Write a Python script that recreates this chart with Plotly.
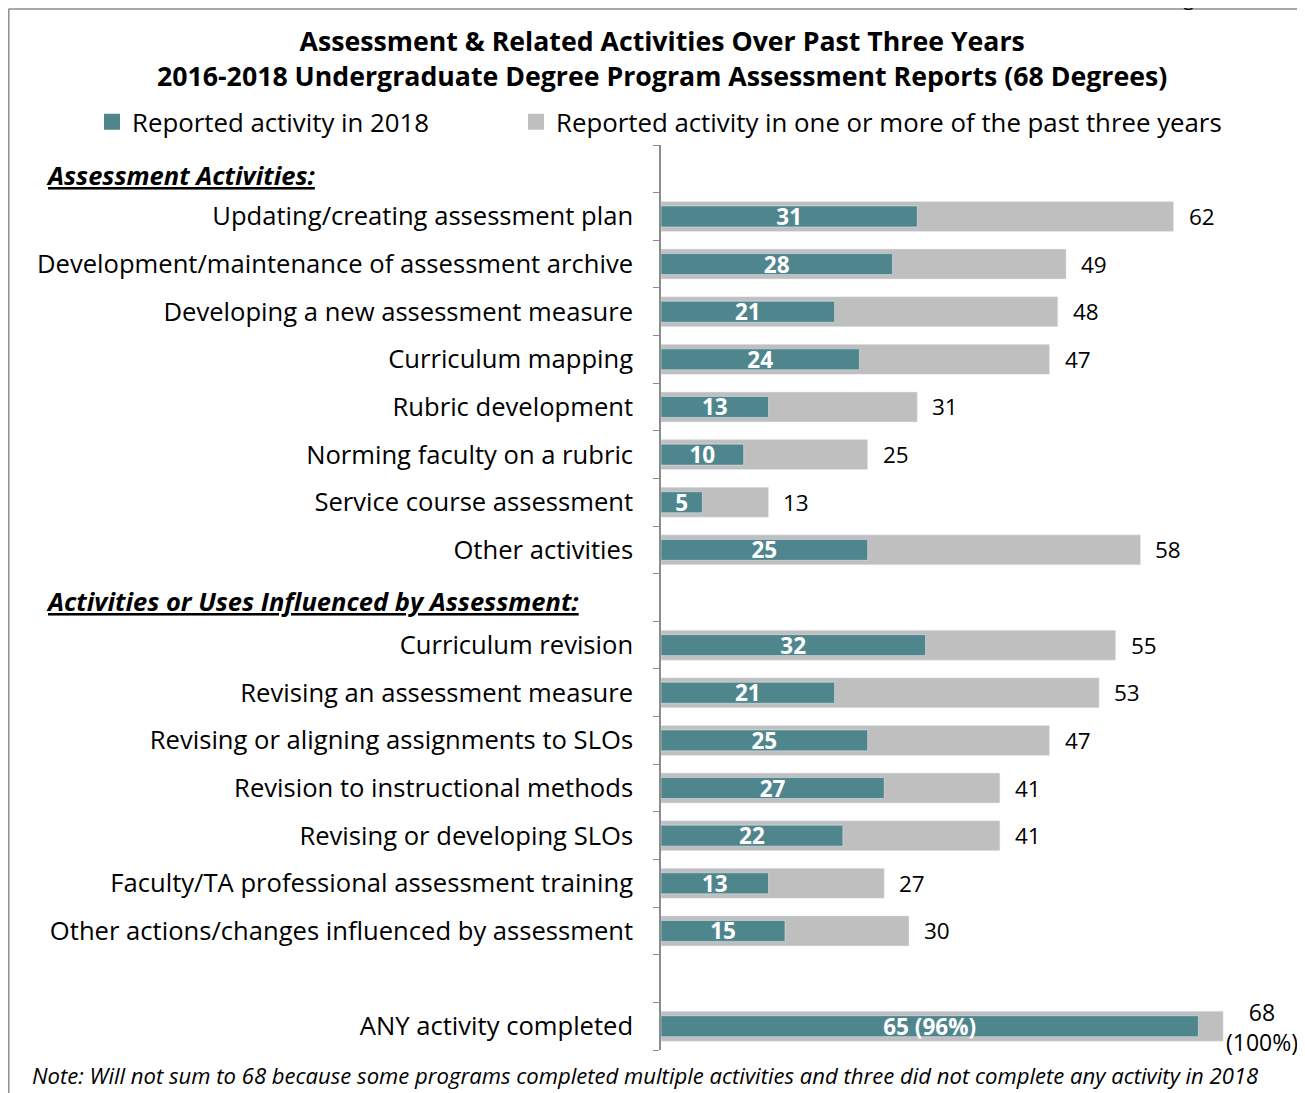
import plotly.graph_objects as go

# rows from top to bottom; header / spacer rows have no values
categories = [
    "Assessment Activities:",
    "Updating/creating assessment plan",
    "Development/maintenance of assessment archive",
    "Developing a new assessment measure",
    "Curriculum mapping",
    "Rubric development",
    "Norming faculty on a rubric",
    "Service course assessment",
    "Other activities",
    "Activities or Uses Influenced by Assessment:",
    "Curriculum revision",
    "Revising an assessment measure",
    "Revising or aligning assignments to SLOs",
    "Revision to instructional methods",
    "Revising or developing SLOs",
    "Faculty/TA professional assessment training",
    "Other actions/changes influenced by assessment",
    "spacer",
    "ANY activity completed",
]
headers = ["Assessment Activities:", "Activities or Uses Influenced by Assessment:"]

in_2018 = [None, 31, 28, 21, 24, 13, 10, 5, 25, None, 32, 21, 25, 27, 22, 13, 15, None, 65]
past_three = [None, 62, 49, 48, 47, 31, 25, 13, 58, None, 55, 53, 47, 41, 41, 27, 30, None, 68]
labels_2018 = [None if v is None else str(v) for v in in_2018]
labels_2018[-1] = "65 (96%)"
labels_past = [None if v is None else str(v) for v in past_three]
labels_past[-1] = "68<br>(100%)"

NAME_2018 = "Reported activity in 2018"
NAME_PAST = "Reported activity in one or more of the past three years"

TEAL = "#4F868E"
GRAY = "#BFBFBF"
LINE = "#8C8C8C"
FONT = "Open Sans"

# page body has an 8px margin, so the figure sits 8px in from the window corner
OFF = 8
W, H = 1305 - OFF, 1093 - OFF
PLOT_L, PLOT_R = 661 - OFF, 1281 - OFF
PLOT_T, PLOT_B = 145 - OFF, 1050 - OFF
XMAX = 75


def px_x(px):
    return (px - OFF - PLOT_L) / (PLOT_R - PLOT_L)


def px_y(py):
    return (PLOT_B - (py - OFF)) / (PLOT_B - PLOT_T)


fig = go.Figure()

fig.add_trace(go.Bar(
    y=categories, x=past_three, orientation="h", name=NAME_PAST,
    marker_color=GRAY, width=0.63, hoverinfo="x", showlegend=False,
))
fig.add_trace(go.Bar(
    y=categories, x=in_2018, orientation="h", name=NAME_2018,
    marker_color=TEAL, width=0.44, text=labels_2018, textposition="inside",
    insidetextanchor="middle", constraintext="none", textangle=0,
    textfont=dict(family=FONT, size=22.5, color="white", weight="bold"),
    hoverinfo="x", showlegend=False,
))

# legend keys: larger square swatches like the original
for name, color, leg in [(NAME_2018, TEAL, "legend"), (NAME_PAST, GRAY, "legend2")]:
    fig.add_trace(go.Scatter(
        x=[None], y=[categories[0]], mode="markers", name=name, legend=leg,
        marker=dict(symbol="square", size=16, color=color), hoverinfo="skip",
    ))

annotations = []
for cat, v, lab in zip(categories, past_three, labels_past):
    if v is None:
        continue
    last = "<br>" in lab
    annotations.append(dict(
        x=v, y=cat, xref="x", yref="y", text=lab, showarrow=False,
        xanchor="left", xshift=1 if last else 13, yshift=-1 if last else 0,
        font=dict(family=FONT, size=23 if last else 22.5, color="black"),
    ))

for h, shift in zip(headers, [-6, -3]):
    annotations.append(dict(
        x=px_x(44), y=h, xref="paper", yref="y", xanchor="left", yshift=shift,
        text=f"<b><i><u>{h}</u></i></b>", showarrow=False,
        font=dict(family=FONT, size=25.5, color="black"),
    ))

annotations += [
    dict(x=px_x(662), y=px_y(58), xref="paper", yref="paper", showarrow=False,
         xanchor="center", yanchor="middle",
         text="<b>Assessment & Related Activities Over Past Three Years<br>"
              "2016-2018 Undergraduate Degree Program Assessment Reports (68 Degrees)</b>",
         font=dict(family=FONT, size=26.7, color="black"), align="center"),
    dict(x=px_x(645), y=px_y(1075), xref="paper", yref="paper", showarrow=False,
         xanchor="center", yanchor="middle",
         text="<i>Note: Will not sum to 68 because some programs completed multiple activities "
              "and three did not complete any activity in 2018</i>",
         font=dict(family=FONT, size=22.1, color="black")),
    dict(x=px_x(1245), y=px_y(13), xref="paper", yref="paper", showarrow=False,
         xanchor="right", yanchor="bottom", text="Figure 8",
         font=dict(family=FONT, size=20, color="black")),
]

shapes = [
    dict(type="line", xref="paper", yref="paper", x0=px_x(8.5), x1=px_x(1320),
         y0=px_y(9), y1=px_y(9), line=dict(color=LINE, width=1.5)),
    dict(type="line", xref="paper", yref="paper", x0=px_x(8.8), x1=px_x(8.8),
         y0=px_y(9), y1=px_y(1110), line=dict(color=LINE, width=1.5)),
]

legend_style = dict(
    orientation="h", yanchor="middle", xanchor="left", itemsizing="trace",
    font=dict(family=FONT, size=25.8, color="black"), bgcolor="rgba(0,0,0,0)",
)

fig.update_layout(
    width=W, height=H,
    margin=dict(l=PLOT_L, r=W - PLOT_R, t=PLOT_T, b=H - PLOT_B, autoexpand=False),
    barmode="overlay",
    plot_bgcolor="white", paper_bgcolor="white",
    font=dict(family=FONT, size=25, color="black"),
    annotations=annotations, shapes=shapes,
    showlegend=True,
    legend=dict(x=px_x(92), y=px_y(122), **legend_style),
    legend2=dict(x=px_x(516), y=px_y(122), **legend_style),
)
fig.update_xaxes(range=[0, XMAX], visible=False, fixedrange=True)
fig.update_yaxes(
    type="category", categoryorder="array", categoryarray=categories,
    range=[len(categories) - 0.5, -0.5],
    tickmode="array", tickvals=categories,
    ticktext=["" if c in headers or c == "spacer" else c for c in categories],
    tickson="boundaries", ticks="outside", ticklen=6, tickcolor=LINE,
    showline=True, linecolor=LINE, linewidth=1.5, showgrid=False,
    ticklabelstandoff=21, automargin=False,
    tickfont=dict(family=FONT, size=25.6, color="black"),
)

fig.write_html("out.html")
